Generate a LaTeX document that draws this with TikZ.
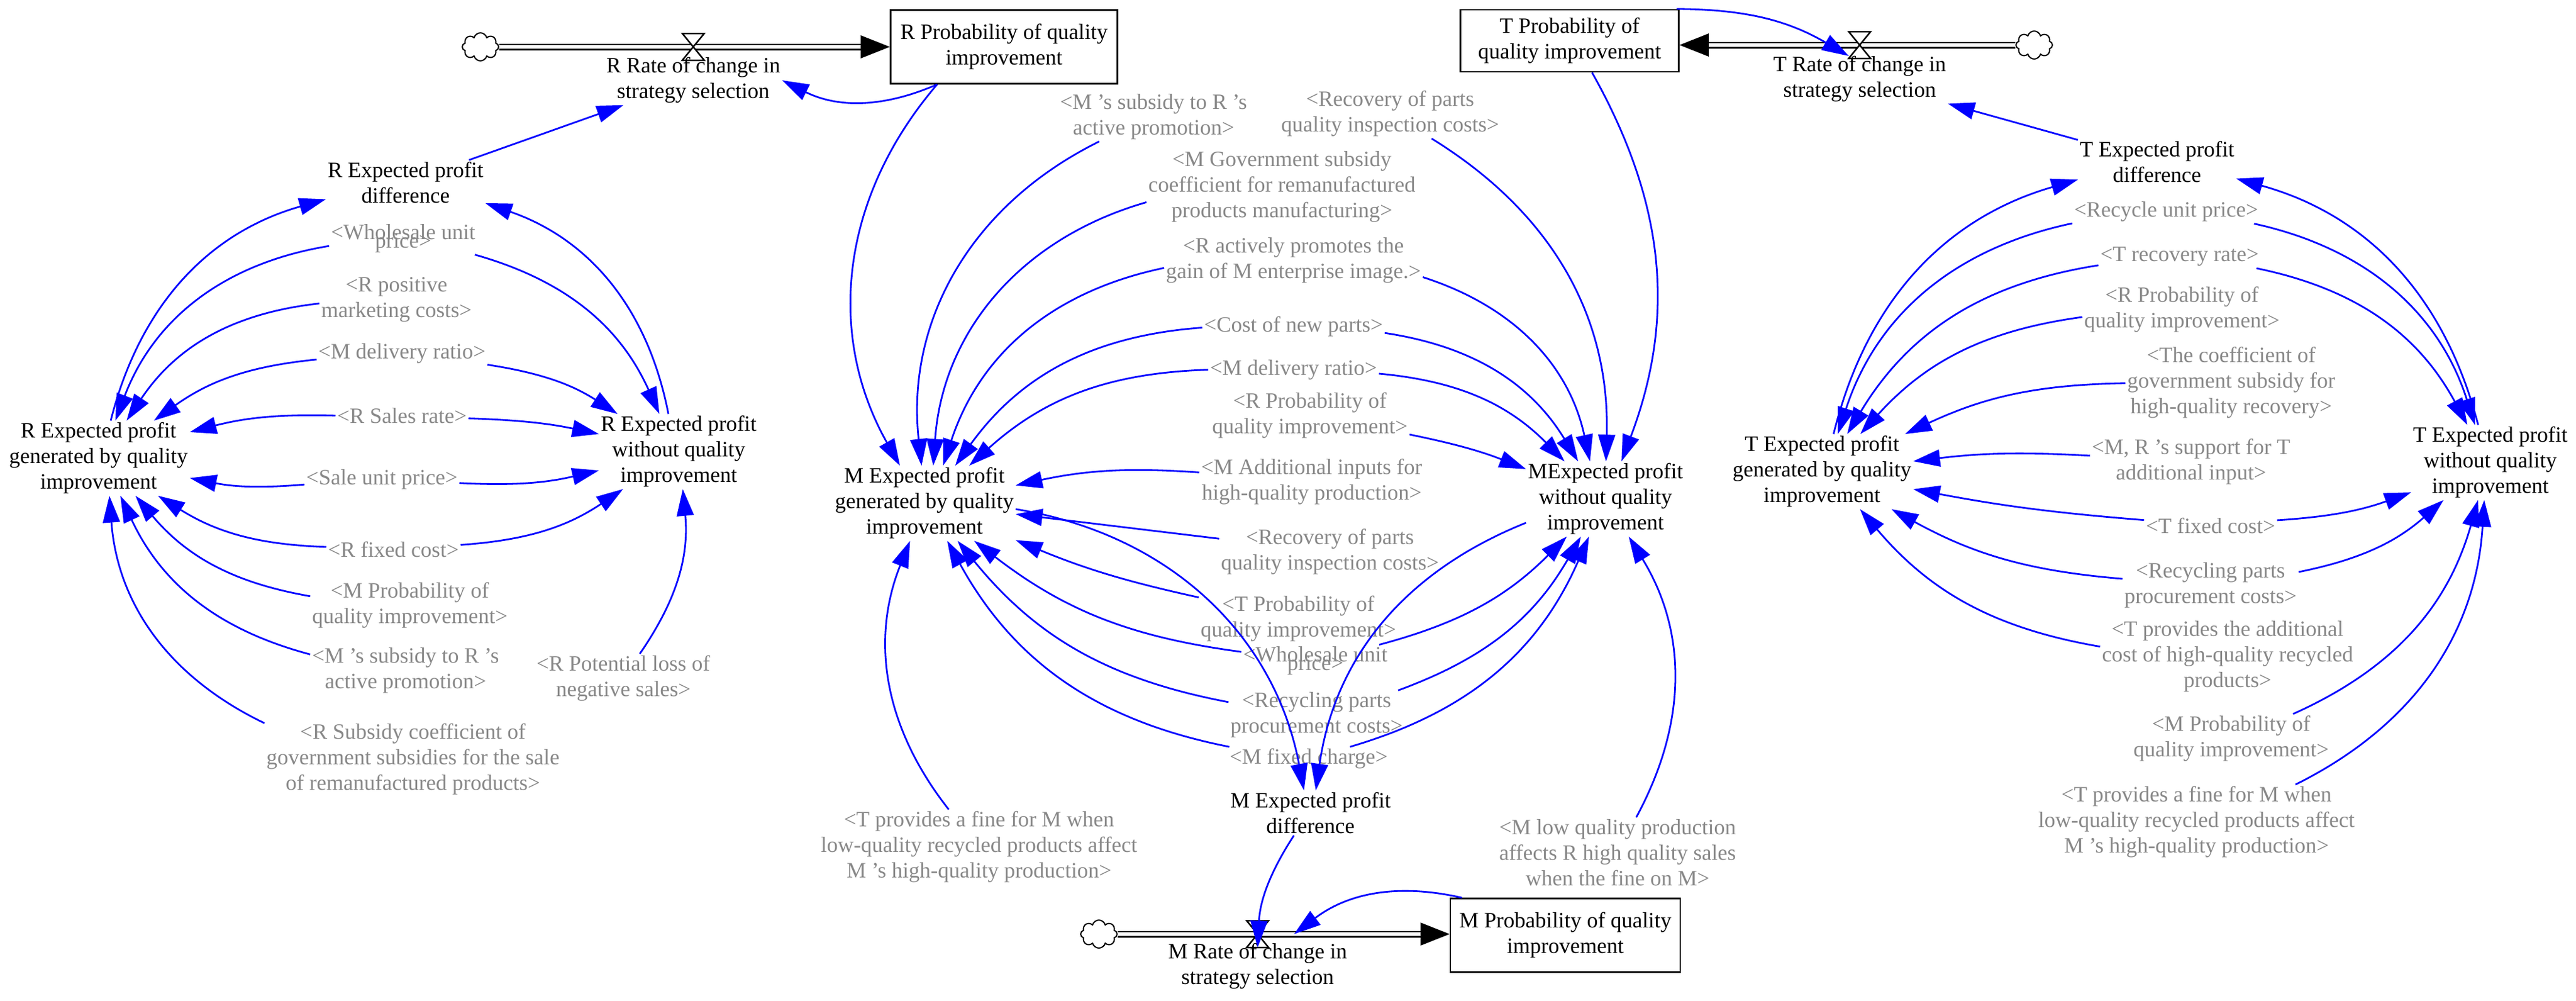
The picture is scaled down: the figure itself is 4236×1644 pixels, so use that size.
\documentclass[tikz,border=0pt]{standalone}
\usepackage{fontspec}
\setmainfont{Liberation Serif}
\usetikzlibrary{arrows.meta,shapes.symbols}
\newcommand\vfs{\fontsize{36}{42}\selectfont}
\definecolor{lblue}{HTML}{0000FF}
\definecolor{sgray}{HTML}{888888}
\tikzset{
 var/.style={align=center,font=\vfs,inner sep=3pt},
 shd/.style={var,text=sgray},
 box/.style={draw,line width=2.5pt,align=center,font=\vfs,inner sep=0pt},
 lk/.style={draw=lblue,line width=2.8pt,-{Triangle[length=44pt,width=28pt]}},
 vl/.style={bend left=#1}, vr/.style={bend right=#1},
 pipe/.style={line width=2.5pt,double=white,double distance=6pt},
 cld/.style={cloud,cloud puffs=8,draw,line width=2pt,minimum width=60pt,minimum height=46pt,inner sep=0pt,fill=white},
}
\newcommand\valve[1]{\draw[line width=2.5pt,fill=white] (#1)++(-18,-22) -- ++(36,0) -- ++(-36,44) -- ++(36,0) -- cycle;}
\newcommand\pipehead[2]{\fill ([xshift=#2,yshift=-19]#1) -- (#1) -- ([xshift=#2,yshift=19]#1) -- cycle;}
\begin{document}
\begin{tikzpicture}[x=1pt,y=-1pt]
\useasboundingbox (0,0) rectangle (4236,1644);
% stocks
\node[box,minimum width=373,minimum height=121] (Rbox) at (1651,77) {R Probability of quality\\improvement};
\node[box,minimum width=359,minimum height=102] (Tbox) at (2581,67) {T Probability of\\quality improvement};
\node[box,minimum width=378,minimum height=121] (Mbox) at (2574,1537) {M Probability of quality\\improvement};
% R flow
\coordinate (Rv) at (1140,77);
\coordinate (Rend) at (Rbox.west |- Rv);
\coordinate (Rpe) at ([xshift=-45]Rend);
\node[cld] (Rcloud) at (790,77) {};
\draw[pipe] (Rcloud.east) -- (Rpe);
\pipehead{Rend}{-48}
\valve{Rv}
\node[var] (RRate) at (1140,132) {R Rate of change in\\strategy selection};
% T flow
\coordinate (Tv) at (3058,74);
\coordinate (Tend) at (Tbox.east |- Tv);
\coordinate (Tpe) at ([xshift=45]Tend);
\node[cld] (Tcloud) at (3345,74) {};
\draw[pipe] (Tcloud.west) -- (Tpe);
\pipehead{Tend}{48}
\valve{Tv}
\node[var] (TRate) at (3058,130) {T Rate of change in\\strategy selection};
% M flow
\coordinate (Mv) at (2068,1535);
\coordinate (Mvr) at (2128,1535);
\coordinate (Mend) at (Mbox.west |- Mv);
\coordinate (Mpe) at ([xshift=-45]Mend);
\node[cld] (Mcloud) at (1807,1535) {};
\draw[pipe] (Mcloud.east) -- (Mpe);
\pipehead{Mend}{-48}
\valve{Mv}
\node[var] (MRate) at (2068,1588) {M Rate of change in\\strategy selection};
% left cluster
\node[var] (rdiff) at (667,300) {R Expected profit\\difference};
\node[var] (rgen) at (162,753) {R Expected profit\\generated by quality\\improvement};
\node[var] (rwo) at (1116,742) {R Expected profit\\without quality\\improvement};
\node[shd] (lws) at (663,392) {{<}Wholesale unit\\[-28pt]price{>}};
\node[shd] (lpm) at (652,492) {{<}R positive\\marketing costs{>}};
\node[shd] (ldr) at (661,581) {{<}M delivery ratio{>}};
\node[shd] (lsr) at (661,683) {{<}R Sales rate{>}};
\node[shd] (lsp) at (628,788) {{<}Sale unit price{>}};
\node[shd] (lfc) at (647,903) {{<}R fixed cost{>}};
\node[shd] (lmp) at (674,995) {{<}M Probability of\\quality improvement{>}};
\node[shd] (lms) at (667,1102) {{<}M 's subsidy to R 's\\active promotion{>}};
\node[shd] (lpl) at (1025,1115) {{<}R Potential loss of\\negative sales{>}};
\node[shd] (lsc) at (679,1248) {{<}R Subsidy coefficient of\\government subsidies for the sale\\of remanufactured products{>}};
% middle cluster
\node[var] (mgen) at (1520,827) {M Expected profit\\generated by quality\\improvement};
\node[var] (mwo) at (2640,820) {MExpected profit\\without quality\\improvement};
\node[var] (mdiff) at (2155,1336) {M Expected profit\\difference};
\node[shd] (ms) at (1897,192) {{<}M 's subsidy to R 's\\active promotion{>}};
\node[shd] (mrec1) at (2286,187) {{<}Recovery of parts\\quality inspection costs{>}};
\node[shd] (mgov) at (2108,307) {{<}M Government subsidy\\coefficient for remanufactured\\products manufacturing{>}};
\node[shd] (mact) at (2127,428) {{<}R actively promotes the\\gain of M enterprise image.{>}};
\node[shd] (mcost) at (2127,537) {{<}Cost of new parts{>}};
\node[shd] (mdr) at (2127,608) {{<}M delivery ratio{>}};
\node[shd] (mrp) at (2154,683) {{<}R Probability of\\quality improvement{>}};
\node[shd] (madd) at (2157,792) {{<}M Additional inputs for\\high-quality production{>}};
\node[shd] (mrec2) at (2187,907) {{<}Recovery of parts\\quality inspection costs{>}};
\node[shd] (mtp) at (2135,1017) {{<}T Probability of\\quality improvement{>}};
\node[shd] (mws) at (2163,1086) {{<}Wholesale unit\\[-28pt]price{>}};
\node[shd] (mrcy) at (2165,1175) {{<}Recycling parts\\procurement costs{>}};
\node[shd] (mfc) at (2152,1247) {{<}M fixed charge{>}};
\node[shd] (mtf) at (1610,1392) {{<}T provides a fine for M when\\low-quality recycled products affect\\M 's high-quality production{>}};
\node[shd] (mlq) at (2660,1401) {{<}M low quality production\\affects R high quality sales\\when the fine on M{>}};
% right cluster
\node[var] (tdiff) at (3547,266) {T Expected profit\\difference};
\node[var] (tgen) at (2996,775) {T Expected profit\\generated by quality\\improvement};
\node[var] (two) at (4095,760) {T Expected profit\\without quality\\improvement};
\node[shd] (trup) at (3562,348) {{<}Recycle unit price{>}};
\node[shd] (trr) at (3584,422) {{<}T recovery rate{>}};
\node[shd] (trp) at (3588,509) {{<}R Probability of\\quality improvement{>}};
\node[shd] (tcoef) at (3669,629) {{<}The coefficient of\\government subsidy for\\high-quality recovery{>}};
\node[shd] (tsup) at (3603,759) {{<}M, R 's support for T\\additional input{>}};
\node[shd] (tfc) at (3635,864) {{<}T fixed cost{>}};
\node[shd] (trcy) at (3635,962) {{<}Recycling parts\\procurement costs{>}};
\node[shd] (tadd) at (3663,1079) {{<}T provides the additional\\cost of high-quality recycled\\products{>}};
\node[shd] (tmp) at (3669,1214) {{<}M Probability of\\quality improvement{>}};
\node[shd] (ttf) at (3612,1351) {{<}T provides a fine for M when\\low-quality recycled products affect\\M 's high-quality production{>}};
% helper coordinates
\coordinate (Rbs) at ([xshift=-110]Rbox.south);
\coordinate (Tbs) at ([xshift=37]Tbox.south);
\coordinate (Tbne) at ([xshift=-5]Tbox.north east);
\coordinate (Tvt) at ([xshift=-18,yshift=-18]Tv);
\coordinate (Mvt) at ([yshift=-22]Mv);
\coordinate (Mbn) at ([xshift=-170]Mbox.north);
% ---- links left
\draw[lk] (rdiff) -- (RRate);
\draw[lk] (Rbs) to[vl=25] (RRate.east);
\draw[lk] (rgen) to[vl=30] (rdiff);
\draw[lk] (rwo) to[vr=30] (rdiff);
\draw[lk] (lws) to[vr=30] (rgen);
\draw[lk] (lpm) to[vr=25] (rgen);
\draw[lk] (ldr) to[vr=15] (rgen);
\draw[lk] (lsr) to[vr=8] (rgen);
\draw[lk] (lsp) to[vl=8] (rgen);
\draw[lk] (lfc) to[vl=15] (rgen);
\draw[lk] (lmp) to[vl=20] (rgen);
\draw[lk] (lms) to[vl=25] (rgen);
\draw[lk] (lsc) to[vl=30] (rgen);
\draw[lk] (lws) to[vl=25] (rwo);
\draw[lk] (ldr) to[vl=12] (rwo);
\draw[lk] (lsr) to[vl=5] (rwo);
\draw[lk] (lsp) to[vr=8] (rwo);
\draw[lk] (lfc) to[vr=15] (rwo);
\draw[lk] (lpl) to[vr=20] (rwo);
% ---- links middle
\draw[lk] (Rbs) to[vr=35] (mgen);
\draw[lk] (Tbs) to[vl=25] (mwo);
\draw[lk] (ms) to[vr=35] (mgen);
\draw[lk] (mgov) to[vr=35] (mgen);
\draw[lk] (mact) to[vr=30] (mgen);
\draw[lk] (mcost) to[vr=25] (mgen);
\draw[lk] (mdr) to[vr=20] (mgen);
\draw[lk] (madd) to[vr=8] (mgen);
\draw[lk] (mrec2) -- (mgen);
\draw[lk] (mtp) to[vl=5] (mgen);
\draw[lk] (mws) to[vl=15] (mgen);
\draw[lk] (mrcy) to[vl=20] (mgen);
\draw[lk] (mfc) to[vl=25] (mgen);
\draw[lk] (mgen) to[vl=35] (mdiff);
\draw[lk] (mtf) to[vl=30] (mgen);
\draw[lk] (mrec1) to[vl=30] (mwo);
\draw[lk] (mact) to[vl=30] (mwo);
\draw[lk] (mcost) to[vl=25] (mwo);
\draw[lk] (mdr) to[vl=20] (mwo);
\draw[lk] (mrp) to[vl=5] (mwo);
\draw[lk] (mws) to[vr=15] (mwo);
\draw[lk] (mrcy) to[vr=20] (mwo);
\draw[lk] (mfc) to[vr=25] (mwo);
\draw[lk] (mwo) to[vr=30] (mdiff);
\draw[lk] (mlq) to[vr=30] (mwo);
\draw[lk] (mdiff) to[vr=15] (Mvt);
\draw[lk] (Mbn) to[vr=25] (Mvr);
% ---- links right
\draw[lk] (tdiff) -- (TRate);
\draw[lk] (Tbne) to[vl=15] (Tvt);
\draw[lk] (tgen) to[vl=30] (tdiff);
\draw[lk] (two) to[vr=30] (tdiff);
\draw[lk] (trup) to[vr=30] (tgen);
\draw[lk] (trr) to[vr=25] (tgen);
\draw[lk] (trp) to[vr=20] (tgen);
\draw[lk] (tcoef) to[vr=12] (tgen);
\draw[lk] (tsup) to[vr=5] (tgen);
\draw[lk] (tfc) to[vl=3] (tgen);
\draw[lk] (trcy) to[vl=12] (tgen);
\draw[lk] (tadd) to[vl=20] (tgen);
\draw[lk] (trup) to[vl=30] (two);
\draw[lk] (trr) to[vl=25] (two);
\draw[lk] (tfc) to[vr=8] (two);
\draw[lk] (trcy) to[vr=15] (two);
\draw[lk] (tmp) to[vr=25] (two);
\draw[lk] (ttf) to[vr=30] (two);
\end{tikzpicture}
\end{document}
